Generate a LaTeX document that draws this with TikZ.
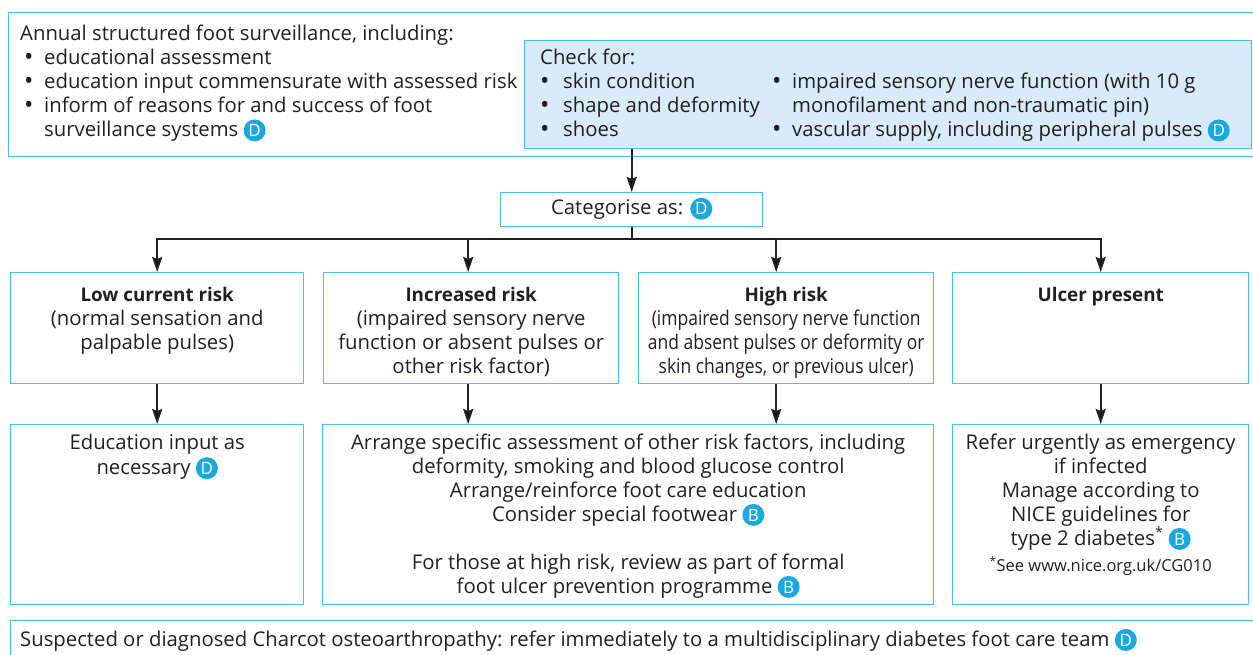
\documentclass[tikz,border=0pt]{standalone}
\usepackage{fontspec}
\setmainfont{Open Sans}
\newfontfamily\condfont{Open Sans}[FakeStretch=0.86]
\usetikzlibrary{arrows.meta}
\definecolor{edgeblue}{HTML}{45C1EC}
\definecolor{fillblue}{HTML}{D7EBF8}
\definecolor{badgeblue}{HTML}{1BA8E0}
\definecolor{ink}{HTML}{231F20}
\newcommand\fs{\fontsize{20.3}{24}\selectfont}
\newcommand\hd[1]{{\fontsize{18.8}{24}\selectfont\bfseries #1}}
\newcommand\bul{\raisebox{-1.5pt}{\fontsize{25}{24}\selectfont•}}
\newcommand\grade[1]{\tikz[baseline=(g.base)]\node[circle,fill=badgeblue,text=white,inner sep=0pt,minimum size=22pt,font=\fontsize{17}{17}\selectfont](g){#1};}
\begin{document}
\begin{tikzpicture}[x=1pt,y=-1pt,
  box/.style={draw=edgeblue,line width=1.4pt,inner sep=0pt,anchor=north west},
  txt/.style={inner sep=0pt,text=ink,font=\fs,align=center},
  ltxt/.style={inner sep=0pt,text=ink,font=\fs,align=left,anchor=north west},
  conn/.style={draw=ink,line width=2.2pt},
  arr/.style={conn,-{Stealth[length=15pt,width=10pt,inset=2pt]}}]
\useasboundingbox (0,0) rectangle (1253,655);
\clip (0,0) rectangle (1253,655);
% boxes
\node[box,minimum width=1250pt,minimum height=144pt] (outer) at (8,12) {};
\node[box,fill=fillblue,minimum width=727pt,minimum height=108pt] (check) at (524,40) {};
\node[box,minimum width=262pt,minimum height=34pt] (cat) at (500,192) {};
\node[box,minimum width=293pt,minimum height=111pt] (b1) at (10,272) {};
\node[box,minimum width=295pt,minimum height=111pt] (b2) at (323,272) {};
\node[box,minimum width=295pt,minimum height=111pt] (b3) at (638,272) {};
\node[box,minimum width=296pt,minimum height=111pt] (b4) at (952,272) {};
\node[box,minimum width=293pt,minimum height=180pt] (l1) at (10,424) {};
\node[box,minimum width=611pt,minimum height=180pt] (l2) at (322,424) {};
\node[box,minimum width=296pt,minimum height=180pt] (l4) at (952,424) {};
\node[box,minimum width=1250pt,minimum height=40pt] (bottom) at (10,620) {};
% texts
\node[ltxt] (outert) at (20,23.5) {\strut Annual structured foot surveillance, including:\\
\hspace*{4pt}\makebox[20pt][l]{\bul}educational assessment\\
\hspace*{4pt}\makebox[20pt][l]{\bul}education input commensurate with assessed risk\\
\hspace*{4pt}\makebox[20pt][l]{\bul}inform of reasons for and success of foot\\
\hspace*{24pt}surveillance systems \grade{D}};
\node[ltxt] (checkl) at (540,47.5) {\strut Check for:\\
\makebox[23pt][l]{\bul}skin condition\\
\makebox[23pt][l]{\bul}shape and deformity\\
\makebox[23pt][l]{\bul}shoes};
\node[ltxt] (checkr) at (772,71.5) {\strut\makebox[20pt][l]{\bul}impaired sensory nerve function (with 10 g\\
\hspace*{20pt}monofilament and non-traumatic pin)\\
\makebox[20pt][l]{\bul}vascular supply, including peripheral pulses \grade{D}};
\node[txt] (catt) at ([yshift=1pt]cat.center) {Categorise as: \grade{D}};
\node[txt,anchor=north] (b1t) at (b1.north |- 0,284) {\strut\hd{Low current risk}\\(normal sensation and\\palpable pulses)};
\node[txt,anchor=north] (b2t) at (b2.north |- 0,284) {\strut\hd{Increased risk}\\(impaired sensory nerve\\function or absent pulses or\\other risk factor)};
\node[txt,anchor=north] (b3t) at (b3.north |- 0,284) {\strut\hd{High risk}\\{\condfont(impaired sensory nerve function}\\{\condfont and absent pulses or deformity or}\\{\condfont skin changes, or previous ulcer)}};
\node[txt,anchor=north] (b4t) at (b4.north |- 0,284) {\strut\hd{Ulcer present}};
\node[txt,anchor=north] (l1t) at (l1.north |- 0,432) {\strut Education input as\\necessary \grade{D}};
\node[txt,anchor=north] (l2t) at (l2.north |- 0,432) {\strut Arrange specific assessment of other risk factors, including\\deformity, smoking and blood glucose control\\Arrange/reinforce foot care education\\Consider special footwear \grade{B}\\[24pt]For those at high risk, review as part of formal\\foot ulcer prevention programme \grade{B}};
\node[txt,anchor=north] (l4t) at (l4.north |- 0,432) {\strut Refer urgently as emergency\\if infected\\Manage according to\\NICE guidelines for\\type 2 diabetes\textsuperscript{*} \grade{B}};
\node[txt,font=\fontsize{16.5}{18}\selectfont] (note) at (l4.north |- 0,566) {\textsuperscript{*}See www.nice.org.uk/CG010};
\node[txt,anchor=base west] (bottomt) at (20,646) {Suspected or diagnosed Charcot osteoarthropathy: refer immediately to a multidisciplinary diabetes foot care team \grade{D}};
% connectors
\coordinate (b2in) at ([xshift=-3pt]b2.north);
\coordinate (b3in) at ([xshift=-10pt]b3.north);
\coordinate (b2out) at ([xshift=-3pt]b2.south);
\coordinate (b3out) at ([xshift=-10pt]b3.south);
\draw[arr] (cat.north |- check.south) -- (cat.north);
\draw[conn] (cat.south) -- ++(0,12) coordinate (split);
\draw[arr] (split) -| (b1.north);
\draw[arr] (split) -| (b2in);
\draw[arr] (split) -| (b3in);
\draw[arr] (split) -| (b4.north);
\draw[arr] (b1.south) -- (l1.north);
\draw[arr] (b2out) -- (l2.north -| b2out);
\draw[arr] (b3out) -- (l2.north -| b3out);
\draw[arr] (b4.south) -- (l4.north);
\end{tikzpicture}
\end{document}
